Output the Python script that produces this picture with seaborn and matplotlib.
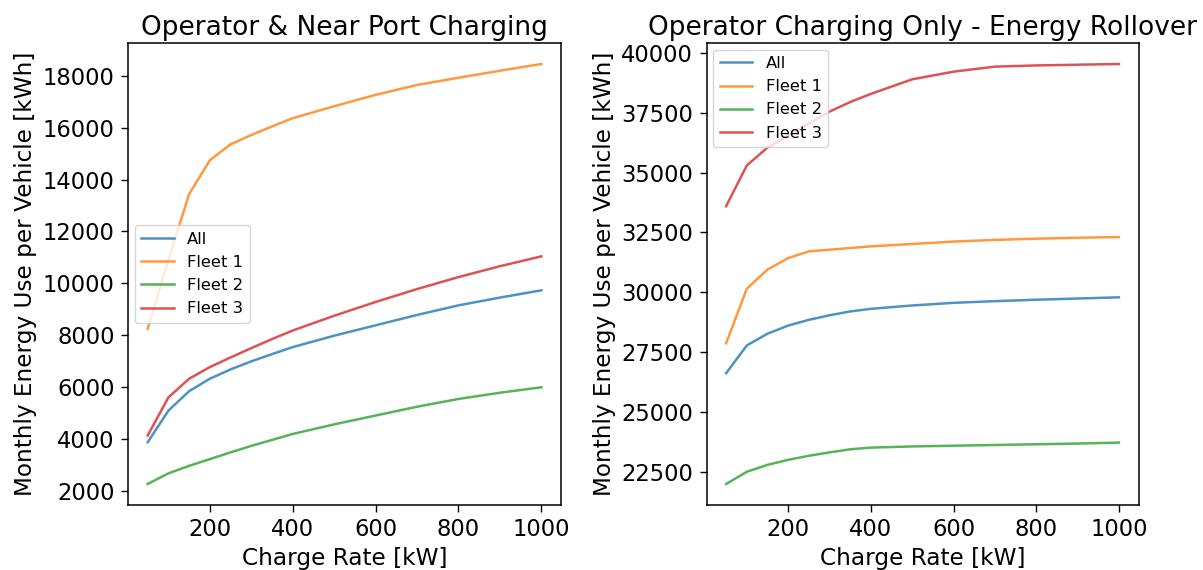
import numpy as np
import pandas as pd
import matplotlib
matplotlib.use("Agg")
import matplotlib.pyplot as plt
import seaborn as sns

charge_rate = [50, 100, 150, 200, 250, 300, 350, 400, 500, 600, 700, 800, 900, 1000]
fleets = ["All", "Fleet 1", "Fleet 2", "Fleet 3"]

# Operator & Near Port Charging
near_all = [3870, 5090, 5840, 6320, 6680, 6990, 7270, 7540, 7980, 8380, 8780, 9150, 9450, 9730]
near_f1 = [8250, 10900, 13440, 14750, 15360, 15720, 16050, 16370, 16830, 17270, 17650, 17930, 18200, 18460]
near_f2 = [2260, 2670, 2960, 3220, 3480, 3730, 3960, 4190, 4560, 4900, 5240, 5540, 5780, 5990]
near_f3 = [4130, 5600, 6320, 6770, 7140, 7500, 7850, 8180, 8750, 9280, 9780, 10240, 10660, 11040]

# Operator Charging Only - Energy Rollover
roll_all = [26620, 27780, 28270, 28610, 28850, 29040, 29200, 29310, 29450, 29560, 29630, 29690, 29740, 29790]
roll_f1 = [27870, 30150, 30950, 31430, 31710, 31780, 31850, 31920, 32020, 32120, 32190, 32240, 32280, 32310]
roll_f2 = [21990, 22500, 22790, 23000, 23170, 23310, 23440, 23510, 23560, 23590, 23620, 23650, 23680, 23720]
roll_f3 = [33600, 35300, 36050, 36550, 37050, 37550, 37950, 38290, 38900, 39220, 39430, 39480, 39510, 39540]

titles = ["Operator & Near Port Charging", "Operator Charging Only - Energy Rollover"]
xlabel = "Charge Rate [kW]"
ylabel = "Monthly Energy Use per Vehicle [kWh]"


def to_long(series_list):
    frames = []
    for name, vals in zip(fleets, series_list):
        frames.append(pd.DataFrame({"rate": charge_rate, "energy": vals, "fleet": name}))
    return pd.concat(frames, ignore_index=True)


df_near = to_long([near_all, near_f1, near_f2, near_f3])
df_roll = to_long([roll_all, roll_f1, roll_f2, roll_f3])

plt.rcParams["font.family"] = ["DejaVu Sans"]
palette = sns.color_palette("tab10", 4)

fig = plt.figure(figsize=(12.03, 5.70), dpi=100)
ax1 = fig.add_axes([128 / 1203, 65 / 570, 433 / 1203, 462 / 570])
ax2 = fig.add_axes([706.5 / 1203, 65 / 570, 432 / 1203, 462 / 570])

for ax, df, title, loc in [(ax1, df_near, titles[0], "center left"),
                           (ax2, df_roll, titles[1], "upper left")]:
    sns.lineplot(data=df, x="rate", y="energy", hue="fleet", palette=palette,
                 ax=ax, linewidth=1.8, alpha=0.8)
    ax.set_title(title, fontsize=19)
    ax.set_xlabel(xlabel, fontsize=16.7)
    ax.set_ylabel(ylabel, fontsize=16.7)
    ax.tick_params(labelsize=16.3, length=5, pad=4.5, width=1)
    for s in ax.spines.values():
        s.set_linewidth(1.1)
    ax.legend(loc=loc, fontsize=11.8, title=None, handlelength=2.0,
              borderaxespad=0.4)

fig.savefig("out.png", dpi=100)
